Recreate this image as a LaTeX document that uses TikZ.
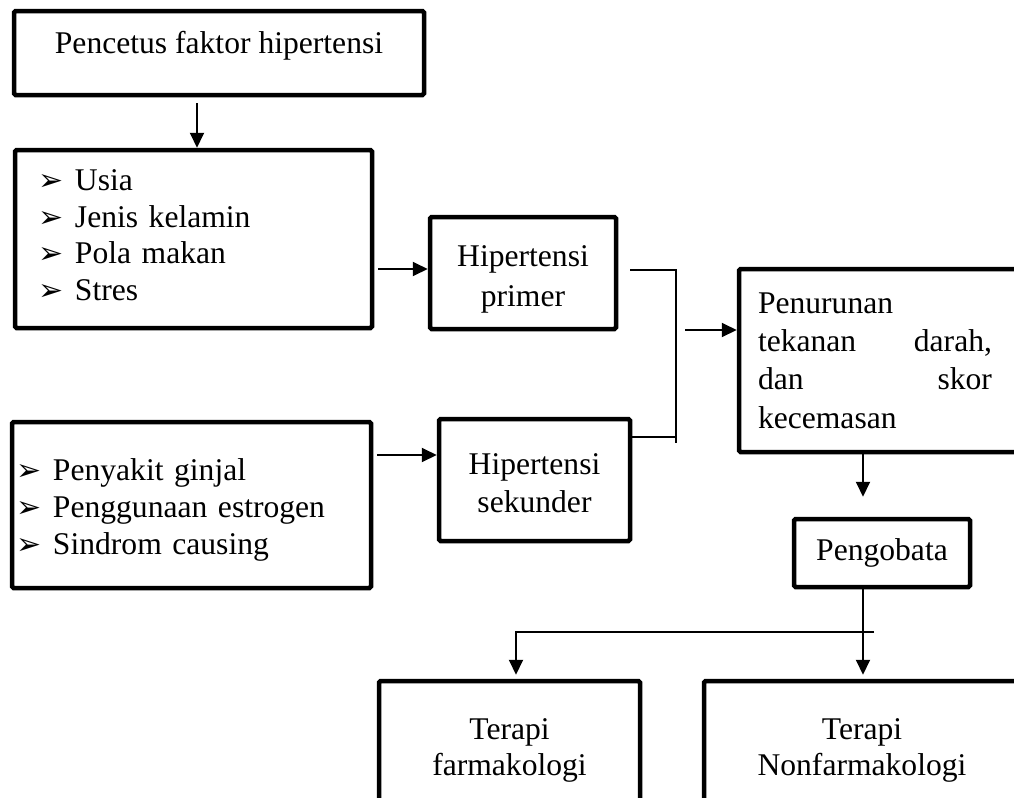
\documentclass[tikz,border=0pt]{standalone}
\usepackage{fontspec}
\setmainfont{Liberation Serif}
\newfontfamily\dejavu{DejaVu Sans}
\usetikzlibrary{arrows.meta,calc}
\newcommand\itemarrow{\makebox[18pt][l]{{\dejavu\fontsize{15}{15}\selectfont ➢}}}
\newcommand\shiftline[2]{\raisebox{#1}[\height][\depth]{#2}}
\tikzset{
  box/.style={draw, line width=2.25pt, rounded corners=0.8pt, inner sep=0pt, align=center,
    font=\fontsize{15.8}{19}\selectfont},
  arr/.style={-{Triangle[length=7.5pt,width=7pt]}, line width=1pt},
  ln/.style={line width=1pt},
}
\begin{document}
\begin{tikzpicture}[x=0.5pt,y=-0.5pt]
\useasboundingbox (0,0) rectangle (1014,798);
\clip (0,0) rectangle (1014,798);
\fill[white] (0,0) rectangle (1014,798);

\node[box, minimum width=205pt, minimum height=42pt, text height=11pt, text depth=11pt] (pencetus) at (219,53) {Pencetus faktor hipertensi};

\node[box, minimum width=178.5pt, minimum height=89pt, text width=154.5pt, inner xsep=12pt, align=left,
  font=\fontsize{15.8}{18.3}\selectfont] (list1) at (193.5,239)
  {\shiftline{2pt}{\itemarrow Usia}\\ \shiftline{2pt}{\itemarrow Jenis kelamin}\\ \shiftline{2pt}{\itemarrow Pola makan}\\ \shiftline{2pt}{\itemarrow Stres}};

\node[box, minimum width=93pt, minimum height=56pt, font=\fontsize{15.8}{20}\selectfont] (primer) at (523,273)
  {\shiftline{-3pt}{Hipertensi}\\ \shiftline{-3pt}{primer}};

\node[box, minimum width=95.5pt, minimum height=61pt] (sekunder) at (534.5,480)
  {\shiftline{-1.5pt}{Hipertensi}\\ \shiftline{-1.5pt}{sekunder}};

\node[box, minimum width=179.5pt, minimum height=83pt, text width=174.5pt, inner xsep=2.5pt, align=left,
  font=\fontsize{15.8}{18.5}\selectfont] (list2) at (191.5,505)
  {\shiftline{-2.5pt}{\itemarrow Penyakit ginjal}\\ \shiftline{-2.5pt}{\itemarrow Penggunaan estrogen}\\ \shiftline{-2.5pt}{\itemarrow Sindrom causing}};

\node[box, minimum width=150.5pt, minimum height=91.5pt, text width=131.5pt, inner xsep=9.5pt, align=left,
  font=\fontsize{15.8}{19.2}\selectfont] (penurunan) at (889.5,360.5)
  {Penurunan\\ \makebox[117pt][l]{tekanan\hfill darah,}\\ \makebox[117pt][l]{dan\hfill skor}\\ kecemasan};

\node[box, minimum width=88pt, minimum height=34pt] (pengobata) at (882,553) {Pengobata};

\node[box, minimum width=130.5pt, minimum height=64pt, font=\fontsize{15.8}{18}\selectfont] (farm) at (509.5,745)
  {\shiftline{-2.5pt}{Terapi}\\ \shiftline{-2.5pt}{farmakologi}};

\node[box, minimum width=158pt, minimum height=64pt, font=\fontsize{15.8}{18}\selectfont] (nonfarm) at (862,745)
  {\shiftline{-2.5pt}{Terapi}\\ \shiftline{-2.5pt}{Nonfarmakologi}};

% connectors
\coordinate (ax1) at (197,0);
\draw[arr, shorten <=3pt] (pencetus.south -| ax1) -- (list1.north -| ax1);

\coordinate (p1) at (0,269);
\draw[arr, shorten <=2pt] (list1.east |- p1) -- (primer.west |- p1);

\coordinate (p2) at (0,455);
\draw[arr, shorten <=2pt] (list2.east |- p2) -- (sekunder.west |- p2);

\coordinate (bt) at (676,270);
\coordinate (bb) at (676,443);
\coordinate (p3) at (0,437);
\draw[ln, shorten <=6pt] (primer.east |- bt) -- (bt) -- (bb);
\draw[ln] (sekunder.east |- p3) -- (bb |- p3);

\coordinate (jin) at (685,330);
\draw[arr] (jin) -- (penurunan.west |- jin);

\coordinate (vx) at (863,0);
\draw[arr, shorten >=10pt] (penurunan.south -| vx) -- (pengobata.north -| vx);
\draw[arr, shorten >=2pt] (pengobata.south -| vx) -- (nonfarm.north -| vx);

\coordinate (hr) at (874,632);
\coordinate (hl) at (516,632);
\draw[arr, shorten >=2pt] (hr) -- (hl) -- (farm.north -| hl);
\end{tikzpicture}
\end{document}
